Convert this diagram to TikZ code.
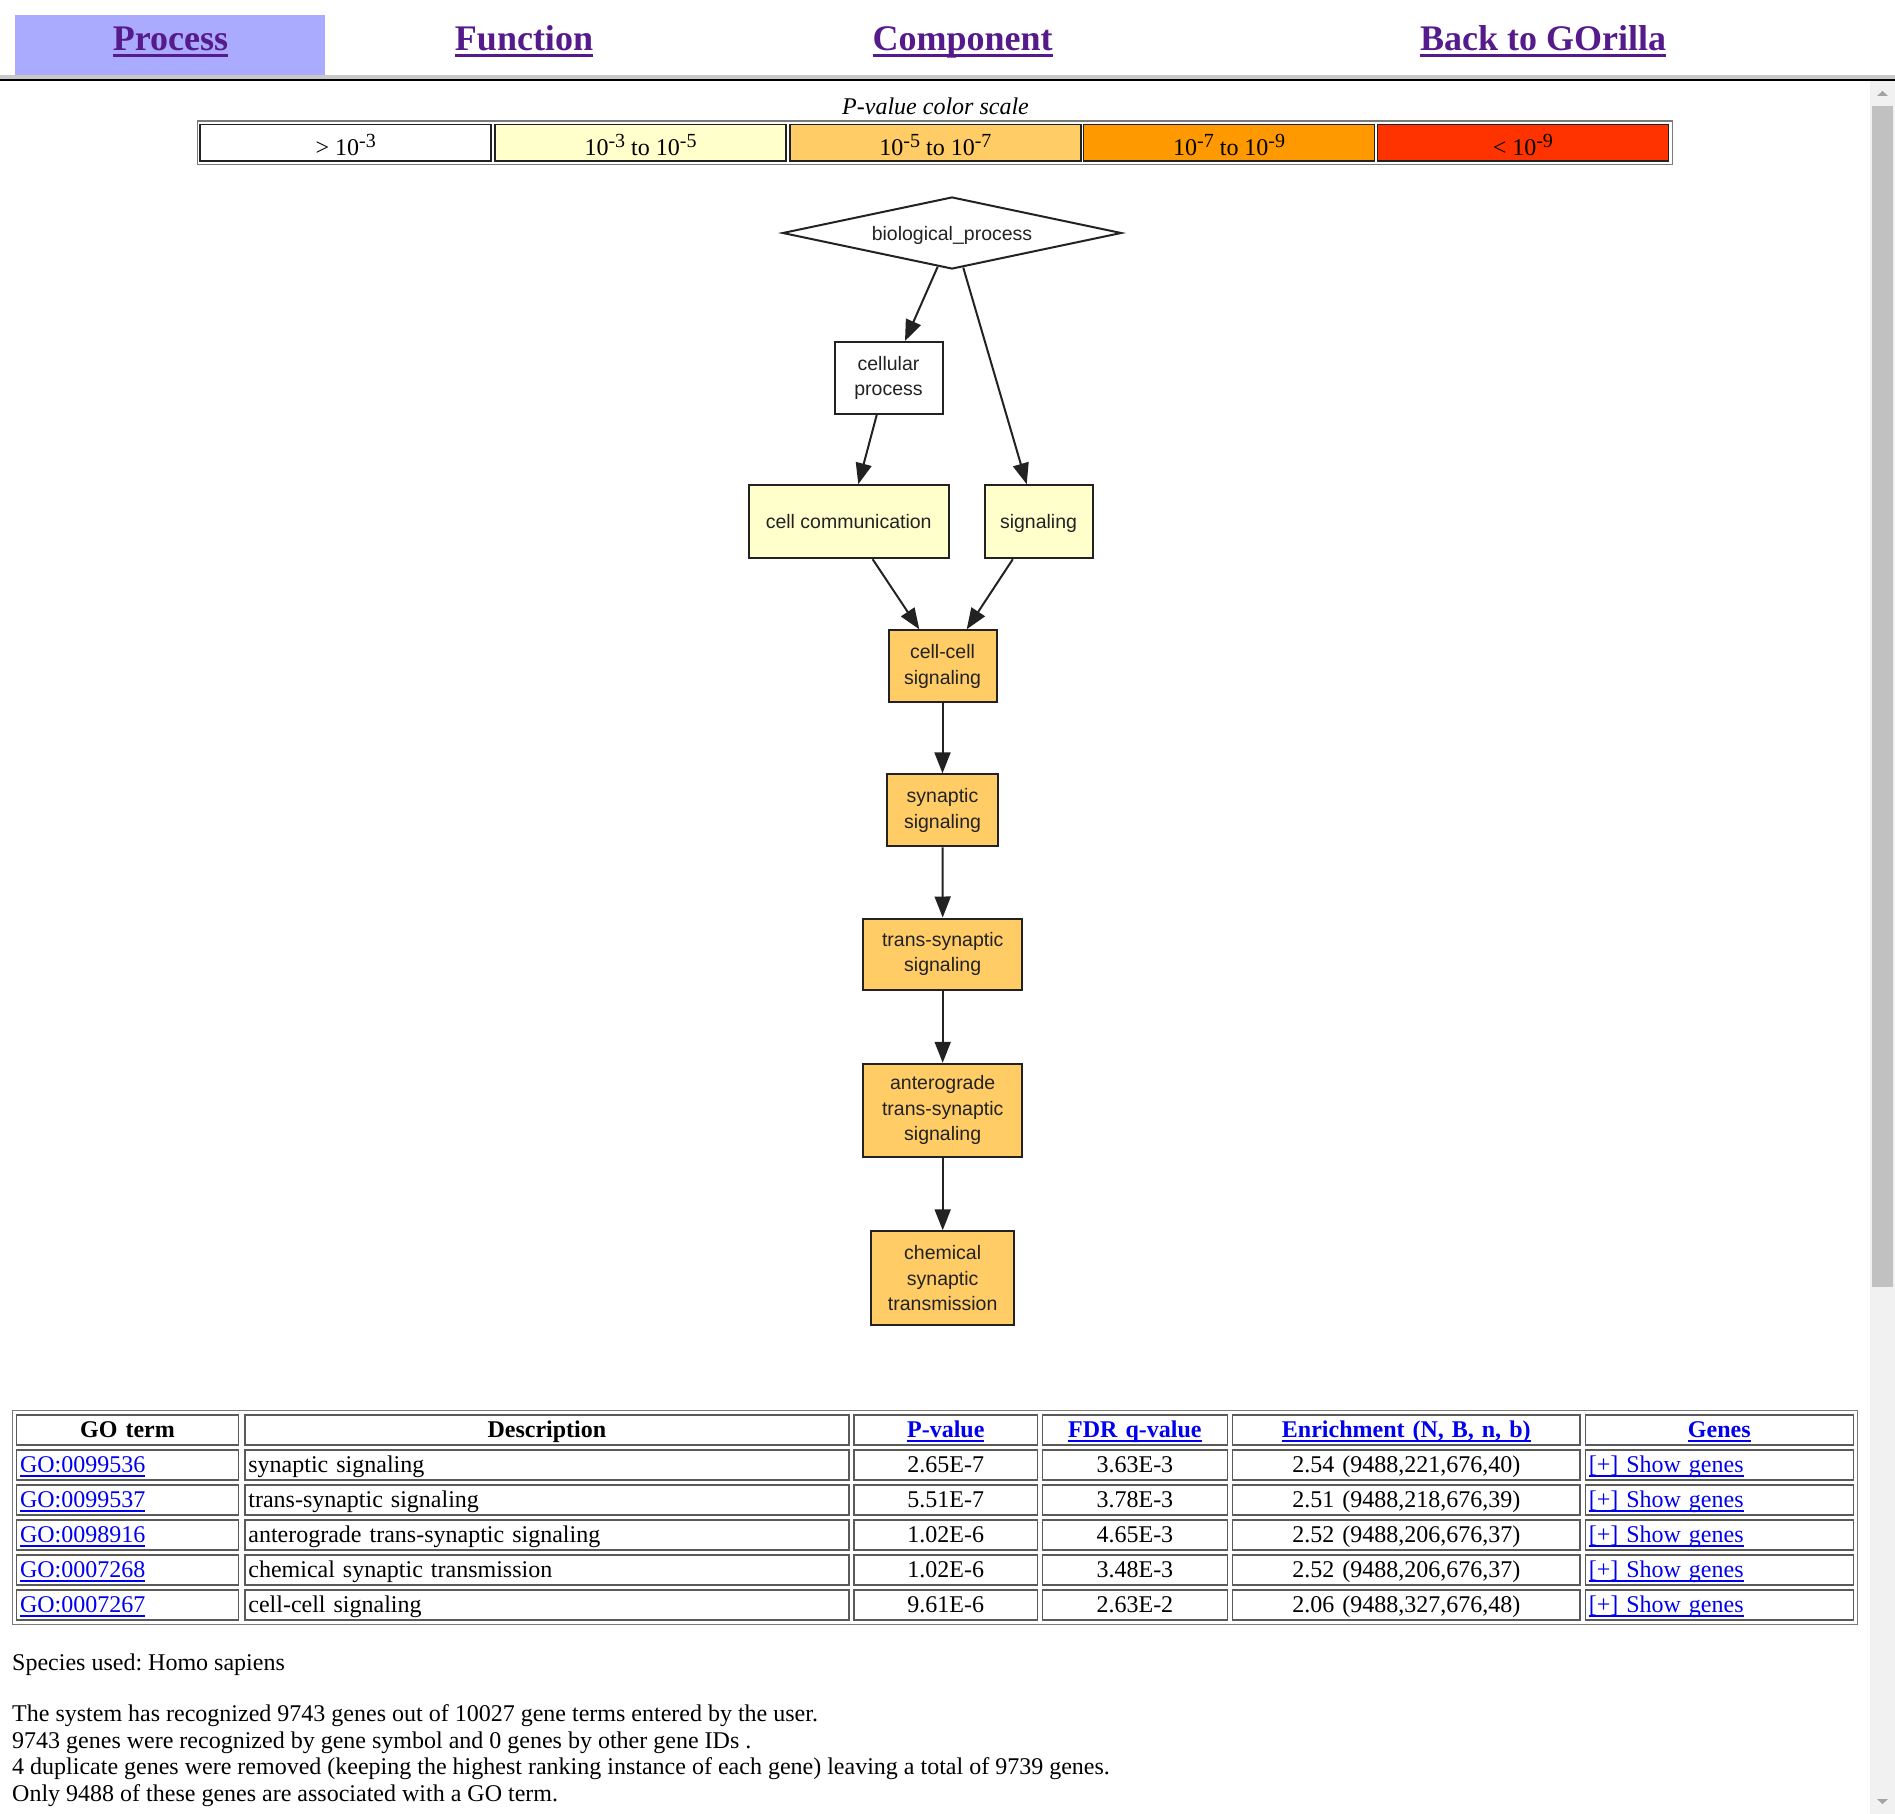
\documentclass[tikz,border=0pt]{standalone}
\usepackage{fontspec}
\setmainfont{Liberation Serif}
\newfontfamily\gvfont{Liberation Sans}
\usetikzlibrary{shapes.geometric}
\usetikzlibrary{arrows.meta}
\frenchspacing

\definecolor{tabblue}{HTML}{AAAAFF}
\definecolor{visited}{HTML}{551A8B}
\definecolor{linkblue}{HTML}{0000EE}
\definecolor{bandgray}{HTML}{C8C8C8}
\definecolor{scrollbg}{HTML}{F1F1F1}
\definecolor{scrollthumb}{HTML}{C1C1C1}
\definecolor{scrollarrow}{HTML}{A3A3A3}
\definecolor{cellborder}{HTML}{5A5A5A}
\definecolor{frameborder}{HTML}{7A7A7A}
\definecolor{gvborder}{HTML}{222222}
\definecolor{pyellow}{HTML}{FFFFCC}
\definecolor{plight}{HTML}{FFCC66}
\definecolor{porange}{HTML}{FF9900}
\definecolor{pred}{HTML}{FF3300}

\newsavebox\lnkbox
\newcommand\lnk[1]{\sbox\lnkbox{#1}\rlap{\rule[-0.17em]{\wd\lnkbox}{0.08em}}\usebox\lnkbox}
\newcommand\sups[1]{\raisebox{8.5pt}{\fontsize{20}{20}\selectfont #1}}
\newcommand\tabfont{\fontsize{24}{28}\selectfont}

\tikzset{
    tablink/.style={anchor=base, inner sep=0pt, text=visited,
        font=\fontsize{36}{40}\selectfont\bfseries},
    lgcell/.style={draw=gvborder, line width=1.5pt, minimum width=291pt,
        minimum height=36.2pt, inner sep=0pt, text height=28pt, text depth=2pt,
        font=\tabfont},
    gonode/.style={draw=gvborder, line width=2pt, inner sep=0pt, align=center,
        text=gvborder, font=\fontsize{19.5}{25.5}\selectfont\gvfont},
    goedge/.style={draw=gvborder, line width=2pt,
        -{Triangle[length=21pt,width=16pt]}},
    cell/.style={draw=cellborder, line width=1.5pt, minimum height=29.9pt,
        inner xsep=3.5pt, inner ysep=0pt, text height=21pt, text depth=5.6pt,
        font=\tabfont},
    colgo/.style={cell, text width=215pt, align=left},
    coldesc/.style={cell, text width=597pt, align=left},
    colp/.style={cell, text width=176.4pt, align=center},
    colfdr/.style={cell, text width=177.7pt, align=center},
    colenr/.style={cell, text width=340.8pt, align=center},
    colgenes/.style={cell, text width=261pt, align=left},
    info/.style={anchor=base west, inner sep=0pt, font=\tabfont}
}

\begin{document}
\begin{tikzpicture}[x=1pt,y=-1pt]
    \useasboundingbox (0,0) rectangle (1895,1814);

    \fill[tabblue] (14.5,15) rectangle (325,75);
    \fill[bandgray] (0,75) rectangle (1895,79.3);
    \fill[black] (0,79.3) rectangle (1895,80.8);
    \node[tablink] (tproc) at (170.4,50.5) {\lnk{Process}};
    \node[tablink] (tfunc) at (524,50.5) {\lnk{Function}};
    \node[tablink] (tcomp) at (962.6,50.5) {\lnk{Component}};
    \node[tablink] (tback) at (1543,50.5) {\lnk{Back to GOrilla}};

    \fill[scrollbg] (1870,80.8) rectangle (1895,1814);
    \fill[scrollthumb] (1872,106) rectangle (1893,1287);
    \fill[scrollarrow] (1877,96) -- (1882.5,91) -- (1888,96) -- cycle;
    \fill[scrollarrow] (1877,1799) -- (1882.5,1804) -- (1888,1799) -- cycle;

    \node[anchor=base, inner sep=0pt, font=\tabfont\itshape] (lgtitle)
        at (935.5,114.5) {P-value color scale};
    \draw[frameborder, line width=1.5pt] (197.5,121) rectangle (1672.5,164.5);
    \node[lgcell, fill=white] (lg1) at (345.7,142.85) {> 10\sups{-3}};
    \node[lgcell, fill=pyellow] (lg2) at (640.55,142.85) {10\sups{-3} to 10\sups{-5}};
    \node[lgcell, fill=plight] (lg3) at (935.45,142.85) {10\sups{-5} to 10\sups{-7}};
    \node[lgcell, fill=porange] (lg4) at (1229.15,142.85) {10\sups{-7} to 10\sups{-9}};
    \node[lgcell, fill=pred] (lg5) at (1522.85,142.85) {< 10\sups{-9}};

    \node[gonode, shape=diamond, aspect=4.7, minimum width=339pt,
        minimum height=72pt, fill=white, text depth=0pt] (bio) at (952,233) {biological\_process};
    \node[gonode, fill=white, minimum width=108pt, minimum height=72pt]
        (cellular) at (888.5,378) {cellular\\process};
    \node[gonode, fill=pyellow, minimum width=200pt, minimum height=73pt]
        (comm) at (848.7,521.7) {cell communication};
    \node[gonode, fill=pyellow, minimum width=108pt, minimum height=73pt, text depth=0pt]
        (signal) at (1038.5,521.7) {signaling};
    \node[gonode, fill=plight, minimum width=108pt, minimum height=72pt]
        (cellcell) at (942.5,666.3) {cell-cell\\signaling};
    \node[gonode, fill=plight, minimum width=111pt, minimum height=72pt]
        (synaptic) at (942.5,810.3) {synaptic\\signaling};
    \node[gonode, fill=plight, minimum width=159pt, minimum height=71pt]
        (trans) at (942.7,954) {trans-synaptic\\signaling};
    \node[gonode, fill=plight, minimum width=159pt, minimum height=93pt]
        (antero) at (942.7,1110.3) {anterograde\\trans-synaptic\\signaling};
    \node[gonode, fill=plight, minimum width=143pt, minimum height=94pt]
        (chem) at (942.7,1278.3) {chemical\\synaptic\\transmission};

    \draw[goedge] (bio.247) -- ([xshift=16.5pt]cellular.north);
    \draw[goedge] (bio.288) -- ([xshift=-11.8pt]signal.north);
    \draw[goedge] ([xshift=-11.8pt]cellular.south) -- ([xshift=9.6pt]comm.north);
    \draw[goedge] ([xshift=23.9pt]comm.south) -- ([xshift=-23.2pt]cellcell.north);
    \draw[goedge] ([xshift=-25.7pt]signal.south) -- ([xshift=24.2pt]cellcell.north);
    \draw[goedge] (cellcell.south) -- (synaptic.north);
    \draw[goedge] (synaptic.south) -- (trans.north);
    \draw[goedge] (trans.south) -- (antero.north);
    \draw[goedge] (antero.south) -- (chem.north);

    \draw[frameborder, line width=1.5pt] (12.3,1410.7) rectangle (1857.6,1624.3);
    \node[colgo, align=center, font=\tabfont\bfseries] (hgo) at (127.5,1430) {GO term};
    \node[coldesc, align=center, font=\tabfont\bfseries] (hdesc) at (546.85,1430) {Description};
    \node[colp, font=\tabfont\bfseries, text=linkblue] (hp) at (945.75,1430) {\lnk{P-value}};
    \node[colfdr, font=\tabfont\bfseries, text=linkblue] (hfdr) at (1134.9,1430) {\lnk{FDR q-value}};
    \node[colenr, font=\tabfont\bfseries, text=linkblue] (henr) at (1406.25,1430) {\lnk{Enrichment (N, B, n, b)}};
    \node[colgenes, align=center, font=\tabfont\bfseries, text=linkblue] (hgenes) at (1719.25,1430) {\lnk{Genes}};

    \node[colgo, text=linkblue] (go1) at (127.5,1465) {\lnk{GO:0099536}};
    \node[coldesc] (desc1) at (546.85,1465) {synaptic signaling};
    \node[colp] (p1) at (945.75,1465) {2.65E-7};
    \node[colfdr] (fdr1) at (1134.9,1465) {3.63E-3};
    \node[colenr] (enr1) at (1406.25,1465) {2.54 (9488,221,676,40)};
    \node[colgenes, text=linkblue] (gn1) at (1719.25,1465) {\lnk{[+] Show genes}};

    \node[colgo, text=linkblue] (go2) at (127.5,1500) {\lnk{GO:0099537}};
    \node[coldesc] (desc2) at (546.85,1500) {trans-synaptic signaling};
    \node[colp] (p2) at (945.75,1500) {5.51E-7};
    \node[colfdr] (fdr2) at (1134.9,1500) {3.78E-3};
    \node[colenr] (enr2) at (1406.25,1500) {2.51 (9488,218,676,39)};
    \node[colgenes, text=linkblue] (gn2) at (1719.25,1500) {\lnk{[+] Show genes}};

    \node[colgo, text=linkblue] (go3) at (127.5,1535) {\lnk{GO:0098916}};
    \node[coldesc] (desc3) at (546.85,1535) {anterograde trans-synaptic signaling};
    \node[colp] (p3) at (945.75,1535) {1.02E-6};
    \node[colfdr] (fdr3) at (1134.9,1535) {4.65E-3};
    \node[colenr] (enr3) at (1406.25,1535) {2.52 (9488,206,676,37)};
    \node[colgenes, text=linkblue] (gn3) at (1719.25,1535) {\lnk{[+] Show genes}};

    \node[colgo, text=linkblue] (go4) at (127.5,1570) {\lnk{GO:0007268}};
    \node[coldesc] (desc4) at (546.85,1570) {chemical synaptic transmission};
    \node[colp] (p4) at (945.75,1570) {1.02E-6};
    \node[colfdr] (fdr4) at (1134.9,1570) {3.48E-3};
    \node[colenr] (enr4) at (1406.25,1570) {2.52 (9488,206,676,37)};
    \node[colgenes, text=linkblue] (gn4) at (1719.25,1570) {\lnk{[+] Show genes}};

    \node[colgo, text=linkblue] (go5) at (127.5,1605) {\lnk{GO:0007267}};
    \node[coldesc] (desc5) at (546.85,1605) {cell-cell signaling};
    \node[colp] (p5) at (945.75,1605) {9.61E-6};
    \node[colfdr] (fdr5) at (1134.9,1605) {2.63E-2};
    \node[colenr] (enr5) at (1406.25,1605) {2.06 (9488,327,676,48)};
    \node[colgenes, text=linkblue] (gn5) at (1719.25,1605) {\lnk{[+] Show genes}};

    \node[info] (species) at (12,1670.5) {Species used: Homo sapiens};
    \node[info] (sys1) at (12,1721.5) {The system has recognized 9743 genes out of 10027 gene terms entered by the user.};
    \node[info] (sys2) at (12,1748) {9743 genes were recognized by gene symbol and 0 genes by other gene IDs .};
    \node[info] (sys3) at (12,1774.5) {4 duplicate genes were removed (keeping the highest ranking instance of each gene) leaving a total of 9739 genes.};
    \node[info] (sys4) at (12,1801) {Only 9488 of these genes are associated with a GO term.};
\end{tikzpicture}
\end{document}
